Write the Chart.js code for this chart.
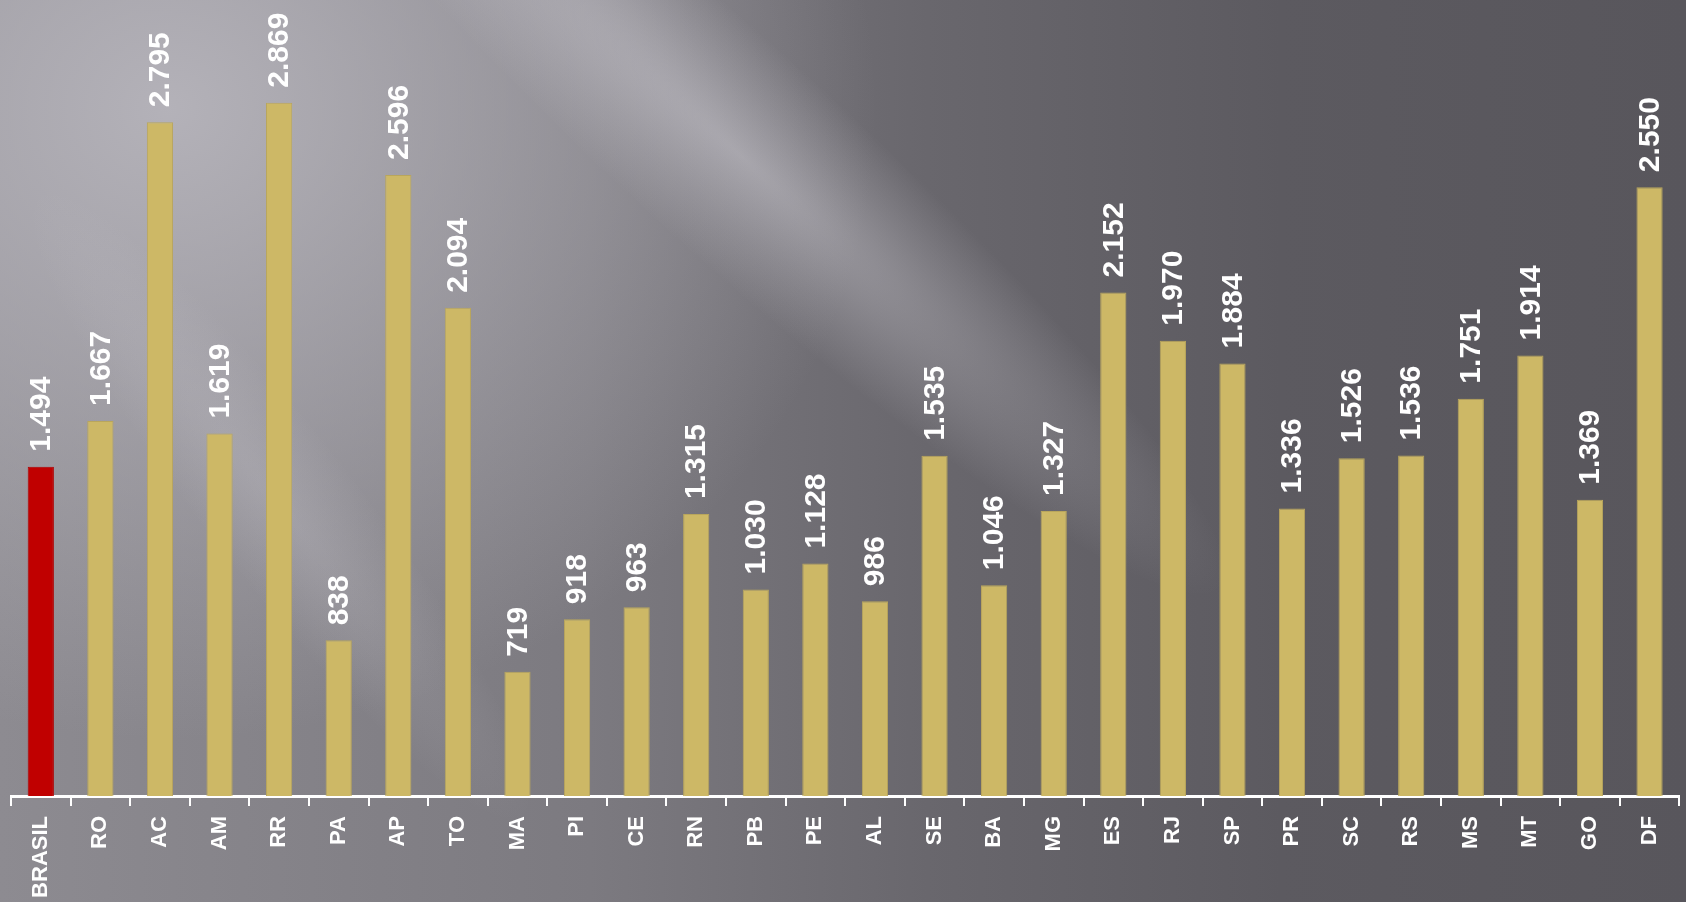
<!DOCTYPE html>
<html lang="pt-BR">
<head>
<meta charset="utf-8">
<title>Valores por UF</title>
<script src="https://cdn.jsdelivr.net/npm/chart.js@4.4.1/dist/chart.umd.min.js"></script>
<style>
  html, body { margin: 0; padding: 0; }
  body {
    position: relative;
    width: 1686px;
    height: 902px;
    overflow: hidden;
    background:
      radial-gradient(ellipse 42% 70% at 10% 12%, rgba(182,180,187,0.95), rgba(182,180,187,0) 100%),
      linear-gradient(to right, #8d8b91 0%, #7c7a80 35%, #69676d 55%, #5c5a60 76%, #58565c 100%);
  }
  .streak {
    position: absolute;
    border-radius: 50%;
    transform-origin: 50% 50%;
  }
  #s1 {
    left: 90px; top: 50px; width: 1300px; height: 210px;
    transform: rotate(42deg);
    background: radial-gradient(ellipse closest-side, rgba(225,223,230,0.42), rgba(225,223,230,0.18) 55%, rgba(225,223,230,0) 100%);
  }
  #s2 {
    left: -120px; top: 430px; width: 800px; height: 150px;
    transform: rotate(52deg);
    background: radial-gradient(ellipse closest-side, rgba(215,213,220,0.22), rgba(215,213,220,0) 100%);
  }
  #wrap { position: absolute; left: 0; top: 0; width: 1686px; height: 902px; }
</style>
</head>
<body>
<div class="streak" id="s1"></div>
<div class="streak" id="s2"></div>
<div id="wrap"><canvas id="chart" width="1686" height="902"></canvas></div>
<script>
  // categories (Brasil + UFs) and their values
  const ufs = ['BRASIL', 'RO', 'AC', 'AM', 'RR', 'PA', 'AP', 'TO', 'MA', 'PI', 'CE', 'RN', 'PB', 'PE',
    'AL', 'SE', 'BA', 'MG', 'ES', 'RJ', 'SP', 'PR', 'SC', 'RS', 'MS', 'MT', 'GO', 'DF'];
  const valores = [1494, 1667, 2795, 1619, 2869, 838, 2596, 2094, 719, 918, 963, 1315, 1030, 1128,
    986, 1535, 1046, 1327, 2152, 1970, 1884, 1336, 1526, 1536, 1751, 1914, 1369, 2550];

  const gold = '#cdb866';
  const goldEdge = '#b9a65c';
  const red = '#c00000';

  // 1494 -> "1.494"
  function fmt(v) {
    return String(v).replace(/\B(?=(\d{3})+(?!\d))/g, '.');
  }

  // rotated value labels above each bar
  const valueLabels = {
    id: 'valueLabels',
    afterDatasetsDraw(chart) {
      const ctx = chart.ctx;
      const meta = chart.getDatasetMeta(0);
      ctx.save();
      ctx.fillStyle = '#ffffff';
      ctx.font = 'bold 30px "Liberation Sans", Arial, sans-serif';
      ctx.textAlign = 'left';
      ctx.textBaseline = 'middle';
      meta.data.forEach((bar, i) => {
        ctx.save();
        ctx.translate(bar.x, bar.y - 15);
        ctx.rotate(-Math.PI / 2);
        ctx.fillText(fmt(valores[i]), 0, 1);
        ctx.restore();
      });
      ctx.restore();
    }
  };

  const ctx = document.getElementById('chart').getContext('2d');
  new Chart(ctx, {
    type: 'bar',
    data: {
      labels: ufs,
      datasets: [{
        data: valores,
        backgroundColor: ufs.map((u, i) => i === 0 ? red : gold),
        borderColor: ufs.map((u, i) => i === 0 ? '#b00000' : goldEdge),
        borderWidth: 1,
        borderSkipped: 'bottom',
        barPercentage: 0.44,
        categoryPercentage: 1
      }]
    },
    options: {
      responsive: false,
      devicePixelRatio: 1,
      animation: false,
      layout: { padding: { top: 68, left: 11, right: 3, bottom: 0 } },
      plugins: {
        legend: { display: false },
        tooltip: { enabled: false }
      },
      scales: {
        x: {
          grid: {
            offset: true,
            drawOnChartArea: false,
            color: '#ffffff',
            lineWidth: 2,
            tickLength: 10
          },
          border: { color: '#ffffff', width: 3 },
          ticks: {
            color: '#ffffff',
            font: { family: '"Liberation Sans", Arial, sans-serif', size: 22, weight: 'bold' },
            minRotation: 90,
            maxRotation: 90,
            autoSkip: false,
            padding: 10
          },
          afterFit(scale) { scale.height = 106; }
        },
        y: {
          display: false,
          min: 250,
          max: 3000
        }
      }
    },
    plugins: [valueLabels]
  });
</script>
</body>
</html>
